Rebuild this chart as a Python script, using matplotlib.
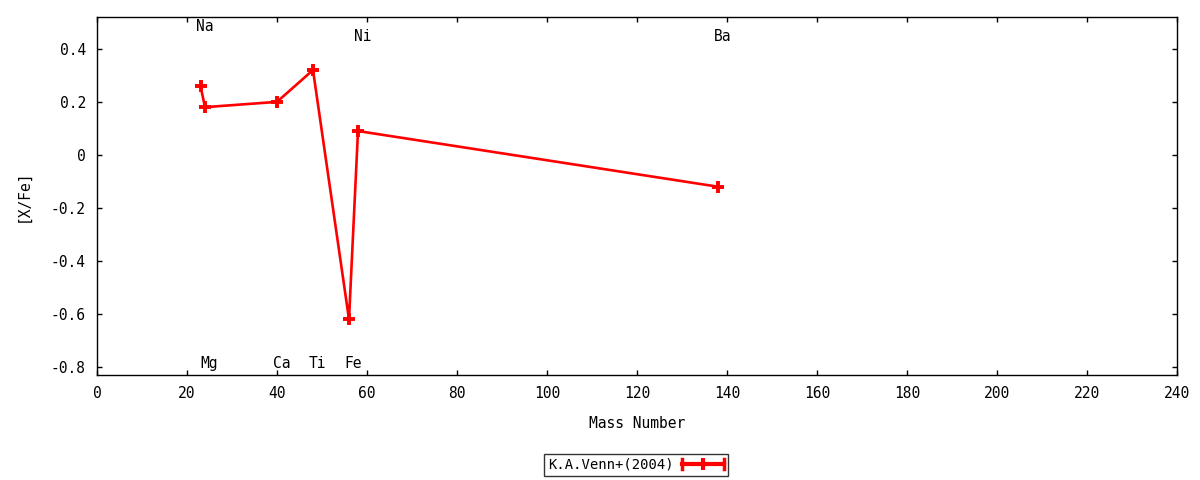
import matplotlib
matplotlib.use("Agg")
import matplotlib.pyplot as plt
from matplotlib.lines import Line2D
from matplotlib.legend_handler import HandlerLine2D

elements = ["Na", "Mg", "Ca", "Ti", "Fe", "Ni", "Ba"]
mass = [23, 24, 40, 48, 56, 58, 138]
xfe = [0.26, 0.18, 0.20, 0.32, -0.62, 0.09, -0.12]
label_x = [24, 25, 41, 49, 57, 59, 139]
label_y = [0.483, -0.785, -0.785, -0.785, -0.785, 0.445, 0.445]
series_name = "K.A.Venn+(2004)"

plt.rcParams['font.family'] = ['DejaVu Sans Mono']
plt.rcParams['font.size'] = 10

fig = plt.figure(figsize=(12, 4.8), dpi=100)
ax = fig.add_axes([97/1200, 1-375/480, 1080/1200, 358/480])

ax.plot(mass, xfe, color='#ff0000', lw=1.9, marker='+', markersize=8,
        markeredgewidth=2.8, label=series_name)
for e, lx, ly in zip(elements, label_x, label_y):
    ax.text(lx, ly, e, ha='center', va='center', fontsize=10.5)

ax.set_xlim(0, 240)
ax.set_ylim(-0.83, 0.52)
ax.set_xticks(range(0, 241, 20))
ax.set_yticks([-0.8, -0.6, -0.4, -0.2, 0, 0.2, 0.4])
ax.set_yticklabels(["-0.8", "-0.6", "-0.4", "-0.2", "0", "0.2", "0.4"])
ax.tick_params(direction='in', top=True, right=True, length=3.5, width=1, labelsize=10.5, pad=8)
for s in ax.spines.values():
    s.set_linewidth(1)
ax.set_xlabel("Mass Number", fontsize=10.5, labelpad=11)
ax.set_ylabel("[X/Fe]", fontsize=10.5, labelpad=15)


class CapHandler(HandlerLine2D):
    def create_artists(self, legend, orig_handle, xdescent, ydescent, width, height, fontsize, trans):
        arts = super().create_artists(legend, orig_handle, xdescent, ydescent, width, height, fontsize, trans)
        y = height / 2 - ydescent
        x0 = -xdescent
        x1 = x0 + width
        for xx in (x0, x1):
            cap = Line2D([xx, xx], [y - 3.5, y + 3.5], color='#ff0000', lw=2.5)
            cap.set_transform(trans)
            arts.append(cap)
        return arts


leg_handle = Line2D([], [], color='#ff0000', lw=3, marker='|', markersize=8,
                    markeredgewidth=3)
leg = fig.legend([leg_handle], [series_name], loc='center', bbox_to_anchor=(636/1200, 1-465/480),
                 frameon=True, fancybox=False, fontsize=10, handlelength=3.0, handletextpad=0.6,
                 markerfirst=False, borderpad=0.3, borderaxespad=0,
                 handler_map={Line2D: CapHandler(numpoints=1)})
leg.get_frame().set_edgecolor('black')
leg.get_frame().set_linewidth(1)

fig.savefig("out.png", dpi=100)
